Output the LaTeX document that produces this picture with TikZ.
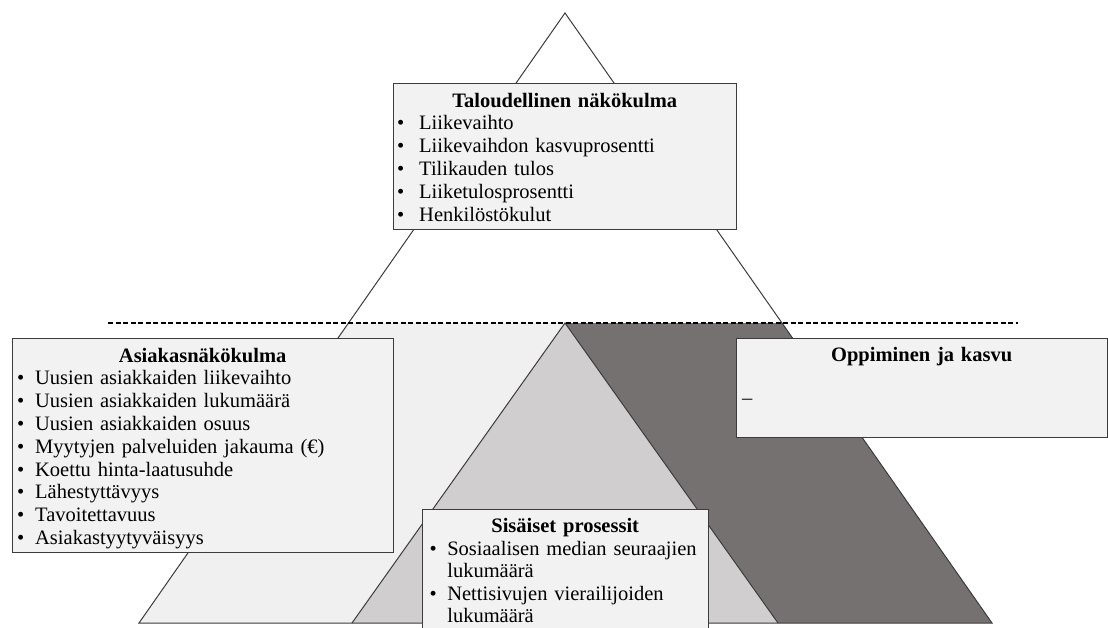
\documentclass[tikz,border=0pt]{standalone}
\usepackage{fontspec}
\setmainfont{Liberation Serif}
\usepackage{tikz}
\definecolor{figLine}{RGB}{60,60,60}
\definecolor{figBox}{RGB}{242,242,242}
\definecolor{figPale}{RGB}{240,240,240}
\definecolor{figMid}{RGB}{208,206,206}
\definecolor{figDark}{RGB}{117,113,113}
\newlength\bulind
\newcommand\bul[1]{\par\hangindent=\bulind\hangafter=1\noindent\makebox[\bulind][l]{\textbullet}#1}
\newcommand\brk{\hfill\break}
\tikzset{panel/.style={draw=figLine, line width=1.1pt, fill=figBox, anchor=north west, inner sep=0pt},
  paneltext/.style={anchor=north west, inner sep=0pt, align=left, font=\fontsize{20.5}{22.8}\selectfont,
    execute at begin node={\parindent=0pt\parskip=0pt}},
  rim/.style={draw=figLine, line width=1pt, line join=miter}}

\begin{document}
\begin{tikzpicture}[x=1pt, y=-1pt]
  \clip (0,0) rectangle (1108,628);
  \fill[white] (0,0) rectangle (1108,628);
  % pyramid
  \coordinate (apex) at (565,13);
  \coordinate (cutL) at (348,323);
  \coordinate (cutR) at (782,323);
  \coordinate (midtop) at (565,323);
  \coordinate (baseL) at (139,623);
  \coordinate (baseR) at (992,623);
  \coordinate (midL) at (352,623);
  \coordinate (midR) at (778,623);
  \fill[figPale] (cutL) -- (cutR) -- (baseR) -- (baseL) -- cycle;
  \fill[figDark] (midtop) -- (cutR) -- (baseR) -- (midR) -- cycle;
  \fill[figMid] (midtop) -- (midR) -- (midL) -- cycle;
  \draw[rim] (baseL) -- (apex) -- (baseR) -- cycle;
  \draw[rim] (midL) -- (midtop) -- (midR);
  \coordinate (dashL) at (108,323);
  \coordinate (dashR) at (1018,323);
  \draw[black, line width=1.3pt, dash pattern=on 5pt off 2.5pt] (dashL) -- (dashR);

  % boxes
  \node[panel, minimum width=343pt, minimum height=146pt] (talous) at (393,83) {};
  \node[paneltext, text width=335pt] (taloustxt) at ([shift={(4,8)}]talous.north west)
    {\setlength\bulind{22pt}{\centering\strut\textbf{Taloudellinen näkökulma}\par}
     \bul{Liikevaihto}
     \bul{Liikevaihdon kasvuprosentti}
     \bul{Tilikauden tulos}
     \bul{Liiketulosprosentti}
     \bul{Henkilöstökulut}\par};

  \node[panel, minimum width=381pt, minimum height=214pt] (asiakas) at (12,338) {};
  \node[paneltext, text width=371pt] (asiakastxt) at ([shift={(5,8)}]asiakas.north west)
    {\setlength\bulind{18pt}{\centering\strut\textbf{Asiakasnäkökulma}\par}
     \bul{Uusien asiakkaiden liikevaihto}
     \bul{Uusien asiakkaiden lukumäärä}
     \bul{Uusien asiakkaiden osuus}
     \bul{Myytyjen palveluiden jakauma (€)}
     \bul{Koettu hinta-laatusuhde}
     \bul{Lähestyttävyys}
     \bul{Tavoitettavuus}
     \bul{Asiakastyytyväisyys}\par};

  \node[panel, minimum width=371pt, minimum height=99pt] (oppiminen) at (736,338) {};
  \node[paneltext, text width=359pt] (oppimistxt) at ([shift={(6,7)}]oppiminen.north west)
    {{\centering\strut\textbf{Oppiminen ja kasvu}\par}};
  \node[anchor=base west, inner sep=0pt, font=\fontsize{20.5}{22.8}\selectfont] (oppdash) at (742,404) {–};

  \node[panel, minimum width=286pt, minimum height=140pt] (sisaiset) at (422,509) {};
  \node[paneltext, text width=271pt, font=\fontsize{20.5}{22.4}\selectfont] (sisaisettxt)
    at ([shift={(7.5,8)}]sisaiset.north west)
    {\setlength\bulind{17.6pt}{\centering\strut\textbf{Sisäiset prosessit}\par}
     \bul{Sosiaalisen median seuraajien\brk lukumäärä}
     \bul{Nettisivujen vierailijoiden\brk lukumäärä}\par};
\end{tikzpicture}
\end{document}
